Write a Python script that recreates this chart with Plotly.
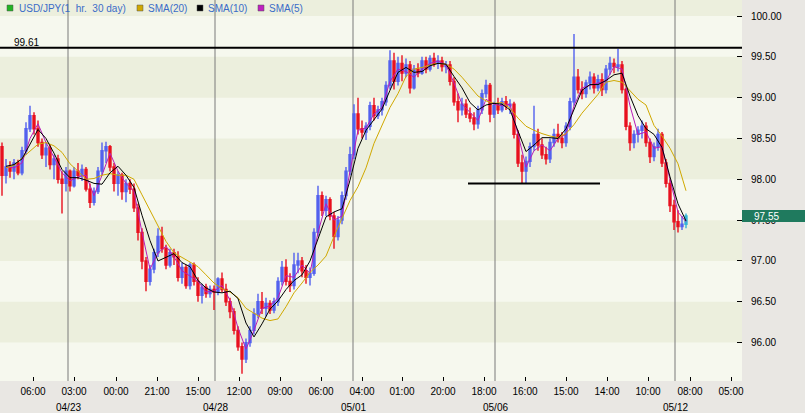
import plotly.graph_objects as go

# ---------------- data ----------------
open_ = [
    98.40, 98.05, 98.15, 98.10, 98.20, 98.08, 98.35, 98.62, 98.78, 98.62, 98.45, 98.30, 98.38, 98.18, 98.25, 98.00, 97.95, 98.10, 97.92, 98.10,
    98.05, 98.12, 97.88, 97.72, 97.85, 98.10, 98.35, 98.40, 98.15, 97.95, 98.05, 97.85, 97.95, 97.88, 97.65, 97.35, 97.00,
    96.75, 96.90, 97.10, 97.30, 97.15, 96.95, 97.10, 97.05, 96.80, 96.92, 96.70, 96.95, 96.75, 96.58, 96.68, 96.60, 96.65, 96.62, 96.78, 96.65,
    96.50, 96.38, 96.15, 95.95, 95.80, 96.00, 96.15, 96.35, 96.50, 96.42, 96.48, 96.40, 96.50, 96.75, 96.92, 96.75, 96.70, 96.95,
    97.00, 96.88, 96.80, 96.85, 97.35, 97.80, 97.62, 97.75, 97.55, 97.30, 97.50, 97.80, 98.10, 98.30, 98.80, 98.62, 98.58, 98.65, 98.90, 98.78,
    98.85, 98.95, 99.15, 99.45, 99.20, 99.42, 99.30, 99.40, 99.12, 99.35, 99.30, 99.45, 99.35, 99.48, 99.42, 99.45, 99.38,
    99.40, 99.20, 98.95, 98.85, 98.92, 98.80, 98.75, 98.68, 98.85, 99.05, 99.15, 98.80, 98.90, 98.85, 98.95, 98.90, 98.92, 98.55, 98.20, 98.10,
    98.22, 98.40, 98.55, 98.42, 98.30, 98.25, 98.45, 98.55, 98.50, 98.45, 98.65, 98.95, 99.25, 99.10, 99.05, 99.18, 99.25, 99.12,
    99.22, 99.10, 99.35, 99.42, 99.38, 99.40, 99.10, 98.65, 98.45, 98.55, 98.60, 98.65, 98.45, 98.28, 98.40, 98.55, 98.20, 97.95, 97.68, 97.48,
    97.42, 97.45,
]
high = [
    98.45, 98.25, 98.22, 98.25, 98.24, 98.40, 98.70, 98.90, 98.82, 98.72, 98.50, 98.45, 98.42, 98.30, 98.30, 98.10, 98.15, 98.12, 98.15, 98.20,
    98.18, 98.15, 97.95, 97.90, 98.15, 98.45, 98.46, 98.42, 98.20, 98.10, 98.08, 98.00, 98.00, 97.95, 97.70, 97.40, 97.05,
    96.95, 97.15, 97.40, 97.42, 97.20, 97.15, 97.15, 97.12, 96.98, 96.95, 96.98, 96.98, 96.80, 96.72, 96.72, 96.70, 96.70, 96.80, 96.86, 96.72,
    96.55, 96.42, 96.20, 96.00, 96.05, 96.20, 96.42, 96.60, 96.62, 96.55, 96.52, 96.55, 96.80, 97.00, 97.02, 96.85, 97.10, 97.10,
    97.05, 96.95, 96.92, 97.40, 97.92, 97.85, 97.80, 97.78, 97.60, 97.55, 97.85, 98.15, 98.40, 98.92, 99.00, 98.72, 98.70, 98.95, 99.00, 98.90,
    99.00, 99.20, 99.58, 99.55, 99.50, 99.52, 99.48, 99.45, 99.40, 99.42, 99.50, 99.50, 99.52, 99.55, 99.52, 99.50, 99.45,
    99.45, 99.25, 99.05, 99.00, 98.98, 98.88, 98.82, 98.90, 99.10, 99.22, 99.18, 98.95, 99.00, 99.00, 99.02, 98.98, 98.95, 98.60, 98.30, 98.28,
    98.45, 98.90, 98.62, 98.50, 98.40, 98.50, 98.62, 98.68, 98.58, 98.70, 99.00, 99.78, 99.35, 99.20, 99.22, 99.32, 99.30, 99.28,
    99.30, 99.40, 99.50, 99.48, 99.60, 99.45, 99.12, 98.70, 98.60, 98.65, 98.72, 98.70, 98.50, 98.45, 98.62, 98.58, 98.25, 98.00, 97.75, 97.62,
    97.55, 97.58,
]
low = [
    97.80, 97.95, 98.02, 98.00, 98.05, 98.05, 98.30, 98.58, 98.55, 98.40, 98.25, 98.15, 98.12, 98.00, 97.95, 97.58, 97.85, 97.85, 97.90, 98.00,
    97.98, 97.85, 97.65, 97.68, 97.82, 98.05, 98.20, 98.10, 97.85, 97.80, 97.75, 97.72, 97.82, 97.60, 97.25, 96.90, 96.63,
    96.70, 96.85, 97.05, 97.10, 96.90, 96.92, 96.95, 96.75, 96.72, 96.66, 96.65, 96.70, 96.50, 96.48, 96.55, 96.55, 96.40, 96.58, 96.62, 96.45,
    96.30, 96.10, 95.90, 95.62, 95.75, 95.95, 96.10, 96.30, 96.35, 96.32, 96.35, 96.36, 96.45, 96.70, 96.70, 96.62, 96.65, 96.85,
    96.80, 96.72, 96.70, 96.82, 97.30, 97.55, 97.55, 97.50, 97.15, 97.25, 97.45, 97.75, 98.05, 98.25, 98.55, 98.50, 98.48, 98.60, 98.72, 98.74,
    98.78, 98.90, 99.10, 99.10, 99.15, 99.20, 99.25, 99.05, 99.10, 99.25, 99.28, 99.30, 99.32, 99.38, 99.35, 99.32, 99.30,
    99.15, 98.90, 98.70, 98.78, 98.75, 98.70, 98.60, 98.62, 98.80, 99.00, 98.70, 98.75, 98.80, 98.82, 98.85, 98.80, 98.50, 98.15, 97.95, 97.95,
    98.15, 98.35, 98.35, 98.25, 98.18, 98.20, 98.40, 98.45, 98.38, 98.40, 98.60, 98.90, 99.05, 98.98, 99.00, 99.10, 99.05, 99.08,
    99.02, 99.05, 99.28, 99.30, 99.32, 99.05, 98.60, 98.35, 98.38, 98.45, 98.50, 98.40, 98.20, 98.22, 98.35, 98.15, 97.90, 97.60, 97.38, 97.35,
    97.38, 97.40,
]
close = [
    98.05, 98.15, 98.10, 98.20, 98.08, 98.35, 98.62, 98.78, 98.62, 98.45, 98.30, 98.38, 98.18, 98.25, 98.00, 97.95, 98.10, 97.92, 98.10, 98.05,
    98.12, 97.88, 97.72, 97.85, 98.10, 98.35, 98.40, 98.15, 97.95, 98.05, 97.85, 97.95, 97.88, 97.65, 97.35, 97.00, 96.75,
    96.90, 97.10, 97.30, 97.15, 96.95, 97.10, 97.05, 96.80, 96.92, 96.70, 96.95, 96.75, 96.58, 96.68, 96.60, 96.65, 96.62, 96.78, 96.65, 96.50,
    96.38, 96.15, 95.95, 95.80, 96.00, 96.15, 96.35, 96.50, 96.42, 96.48, 96.40, 96.50, 96.75, 96.92, 96.75, 96.70, 96.95, 97.00,
    96.88, 96.80, 96.85, 97.35, 97.80, 97.62, 97.75, 97.55, 97.30, 97.50, 97.80, 98.10, 98.30, 98.80, 98.62, 98.58, 98.65, 98.90, 98.78, 98.85,
    98.95, 99.15, 99.45, 99.20, 99.42, 99.30, 99.40, 99.12, 99.35, 99.30, 99.45, 99.35, 99.48, 99.42, 99.45, 99.38, 99.40,
    99.20, 98.95, 98.85, 98.92, 98.80, 98.75, 98.68, 98.85, 99.05, 99.15, 98.80, 98.90, 98.85, 98.95, 98.90, 98.92, 98.55, 98.20, 98.10, 98.22,
    98.40, 98.55, 98.42, 98.30, 98.25, 98.45, 98.55, 98.50, 98.45, 98.65, 98.95, 99.25, 99.10, 99.05, 99.18, 99.25, 99.12, 99.22,
    99.10, 99.35, 99.42, 99.38, 99.40, 99.10, 98.65, 98.45, 98.55, 98.60, 98.65, 98.45, 98.28, 98.40, 98.55, 98.20, 97.95, 97.68, 97.48, 97.42,
    97.45, 97.55,
]

sma20 = [
    98.14, 98.17, 98.26, 98.35, 98.43, 98.45, 98.41, 98.33, 98.19, 98.10,
    98.00, 98.01, 98.05, 98.07, 98.05, 98.05, 98.00, 97.81, 97.62, 97.42,
    97.24, 97.10, 97.04, 96.99, 96.93, 96.83, 96.73, 96.66, 96.62, 96.55,
    96.42, 96.36, 96.30, 96.27, 96.29, 96.44, 96.61, 96.73, 96.86, 96.95,
    97.06, 97.30, 97.53, 97.74, 97.91, 98.14, 98.44, 98.67, 98.88, 99.05,
    99.26, 99.35, 99.37, 99.40, 99.42, 99.41, 99.35, 99.25, 99.13, 99.02,
    98.96, 98.93, 98.94, 98.87, 98.75, 98.65, 98.60, 98.56, 98.53, 98.51,
    98.56, 98.67, 98.81, 98.93, 99.04, 99.19, 99.21, 99.19, 99.09, 98.98,
    98.91, 98.66, 98.53, 98.38, 98.19, 97.86,
]
sma10 = [
    98.16, 98.18, 98.25, 98.44, 98.61, 98.50, 98.32, 98.12, 98.02, 98.02,
    97.99, 97.95, 97.94, 98.08, 98.16, 98.05, 97.90, 97.56, 97.25, 97.00,
    97.04, 97.09, 96.98, 96.93, 96.76, 96.67, 96.62, 96.61, 96.63, 96.54,
    96.24, 96.07, 96.23, 96.41, 96.51, 96.65, 96.76, 96.83, 97.00, 97.27,
    97.54, 97.60, 97.64, 97.99, 98.38, 98.60, 98.73, 98.86, 99.09, 99.31,
    99.37, 99.31, 99.32, 99.39, 99.42, 99.41, 99.26, 99.12, 98.94, 98.85,
    98.91, 98.93, 98.92, 98.85, 98.59, 98.34, 98.42, 98.51, 98.51, 98.50,
    98.62, 98.85, 99.09, 99.16, 99.16, 99.21, 99.28, 99.30, 99.02, 98.78,
    98.62, 98.55, 98.39, 98.03, 97.70, 97.49,
]
sma5 = [
    98.15, 98.14, 98.20, 98.50, 98.68, 98.45, 98.27, 98.08, 97.98, 98.03,
    98.05, 97.80, 98.05, 98.32, 98.10, 97.95, 97.85, 97.35, 96.90, 97.10,
    97.18, 97.05, 96.88, 96.82, 96.75, 96.62, 96.63, 96.70, 96.52, 96.18,
    95.92, 96.15, 96.42, 96.45, 96.55, 96.82, 96.80, 96.95, 96.85, 97.35,
    97.70, 97.50, 97.55, 98.10, 98.60, 98.63, 98.80, 98.88, 99.20, 99.35,
    99.32, 99.25, 99.35, 99.42, 99.45, 99.40, 99.18, 98.92, 98.82, 98.72,
    98.98, 98.92, 98.90, 98.92, 98.55, 98.15, 98.35, 98.42, 98.35, 98.50,
    98.55, 98.90, 99.12, 99.15, 99.18, 99.20, 99.38, 99.35, 98.90, 98.55,
    98.58, 98.38, 98.40, 98.00, 97.60, 97.48,
]

tick_pos = [7.75, 18, 28.5, 38.75, 49, 59.25, 69.5, 79.75, 90, 100, 110.25, 120.5, 130.75, 141, 151.25, 161.5, 172, 182.25]
tick_text = ["06:00", "03:00", "00:00", "21:00", "15:00", "12:00", "09:00", "06:00", "04:00",
             "01:00", "20:00", "18:00", "16:00", "15:00", "14:00", "10:00", "08:00", "05:00"]
date_labels = ["04/23", "04/28", "05/01", "05/06", "05/12"]
date_pos = [16.5, 53.25, 87.75, 123.25, 168.25]
price_ticks = [96.0, 96.5, 97.0, 97.5, 98.0, 98.5, 99.0, 99.5, 100.0]
dark_bands = [96.0, 97.0, 98.0, 99.0, 100.0]
resistance = 99.61
support = 97.95
support_span = (116.5, 149.5)

# ---------------- styles ----------------
W, H = 805, 413
ML, MR, MT, MB = 0, 63, 0, 32
PW, PH = W - ML - MR, H - MT - MB
YMIN, YMAX = 95.53, 100.196
XMIN, XMAX = -0.5, 185.0
UP, DOWN, LAST = "#5361EE", "#E8101E", "#34B4D8"
C20, C10, C5 = "#D0A800", "#000000", "#B81CB8"
LIGHT, DARK, PANEL = "#F6F8EE", "#ECEFDD", "#E9E7E3"
FONT = "Liberation Sans, Arial, sans-serif"

n = len(close)
xs = list(range(n))
sma_x = list(range(1, n, 2))

fig = go.Figure()
fig.add_trace(go.Candlestick(
    x=xs[:-1], open=open_[:-1], high=high[:-1], low=low[:-1], close=close[:-1],
    increasing=dict(line=dict(color=UP, width=1.4), fillcolor=UP),
    decreasing=dict(line=dict(color=DOWN, width=1.4), fillcolor=DOWN),
    whiskerwidth=0, hoverinfo="skip", showlegend=False))
fig.add_trace(go.Candlestick(
    x=xs[-1:], open=open_[-1:], high=high[-1:], low=low[-1:], close=close[-1:],
    increasing=dict(line=dict(color=LAST, width=1.4), fillcolor=LAST),
    decreasing=dict(line=dict(color=LAST, width=1.4), fillcolor=LAST),
    whiskerwidth=0, hoverinfo="skip", showlegend=False))
fig.add_trace(go.Scatter(x=sma_x, y=sma5, mode="lines", line=dict(color=C5, width=1), hoverinfo="skip", showlegend=False))
fig.add_trace(go.Scatter(x=sma_x, y=sma20, mode="lines", line=dict(color=C20, width=1), hoverinfo="skip", showlegend=False))
fig.add_trace(go.Scatter(x=sma_x, y=sma10, mode="lines", line=dict(color=C10, width=1), hoverinfo="skip", showlegend=False))

shapes = []
for b in dark_bands:
    shapes.append(dict(type="rect", xref="paper", yref="y", x0=0, x1=1, y0=b, y1=b + 0.5,
                       fillcolor=DARK, line=dict(width=0), layer="below"))
for d in date_pos:
    shapes.append(dict(type="line", xref="x", yref="paper", x0=d, x1=d, y0=0, y1=1,
                       line=dict(color="#7A7A7A", width=1), layer="below"))
shapes.append(dict(type="line", xref="paper", yref="y", x0=0, x1=1, y0=resistance, y1=resistance,
                   line=dict(color="black", width=2)))
shapes.append(dict(type="line", xref="x", yref="y", x0=support_span[0], x1=support_span[1], y0=support, y1=support,
                   line=dict(color="black", width=2)))

# last price box on the right axis
frac = (close[-1] - YMIN) / (YMAX - YMIN)
hh = 6.0 / PH
shapes.append(dict(type="rect", xref="paper", yref="paper", x0=1.0, x1=1 + MR / PW,
                   y0=frac - hh, y1=frac + hh, fillcolor="#1F7A5E", line=dict(width=0)))

annotations = [
    dict(xref="paper", yref="paper", x=1 + 10 / PW, y=frac, xanchor="left", yanchor="middle",
         text=f"{close[-1]:.2f}", showarrow=False, font=dict(family=FONT, size=10, color="white")),
    dict(xref="paper", yref="y", x=12 / PW, y=resistance, xanchor="left", yanchor="bottom", yshift=-2,
         text=f"{resistance:.2f}", showarrow=False, font=dict(family=FONT, size=10, color="black")),
]
for lab, pos in zip(date_labels, date_pos):
    annotations.append(dict(xref="x", yref="paper", x=pos, y=-(407 - PH) / PH, xanchor="center", yanchor="middle",
                            text=lab, showarrow=False, font=dict(family=FONT, size=10, color="black")))

# legend row
legend_items = [("#22B422", 7, "USD/JPY(1&nbsp;&nbsp;hr.&nbsp;&nbsp;30&nbsp;day)", 17), (C20, 137, "SMA(20)", 146),
                (C10, 197, "SMA(10)", 206), ("#C020C0", 258, "SMA(5)", 267)]
for col, sx, txt, tx in legend_items:
    shapes.append(dict(type="rect", xref="paper", yref="paper", x0=sx / PW, x1=(sx + 6) / PW,
                       y0=1 - 11 / PH, y1=1 - 5 / PH, fillcolor=col, line=dict(color="#555555", width=0.5)))
    annotations.append(dict(xref="paper", yref="paper", x=tx / PW, y=1 - 8 / PH, xanchor="left", yanchor="middle",
                            text=txt, showarrow=False, font=dict(family=FONT, size=10, color="#3A6CC8")))

fig.update_layout(
    width=W, height=H, margin=dict(l=ML, r=MR, t=MT, b=MB),
    paper_bgcolor=PANEL, plot_bgcolor=LIGHT,
    shapes=shapes, annotations=annotations, showlegend=False,
    font=dict(family=FONT, size=10, color="black"),
    xaxis=dict(range=[XMIN, XMAX], rangeslider=dict(visible=False), showgrid=False, zeroline=False,
               tickmode="array", tickvals=tick_pos, ticktext=tick_text, ticks="inside", ticklen=4,
               tickcolor="black", tickfont=dict(family=FONT, size=10, color="black"), ticklabelstandoff=3,
               fixedrange=True),
    yaxis=dict(range=[YMIN, YMAX], side="right", showgrid=False, zeroline=False,
               tickmode="array", tickvals=price_ticks, ticktext=[f"{v:.2f}" for v in price_ticks],
               ticks="inside", ticklen=5, tickcolor="black", ticklabelstandoff=8,
               tickfont=dict(family=FONT, size=10, color="black"), fixedrange=True),
)

fig.write_html("out.html", config={"displayModeBar": False},
               post_script="document.body.style.margin='0';document.body.style.overflow='hidden';")
